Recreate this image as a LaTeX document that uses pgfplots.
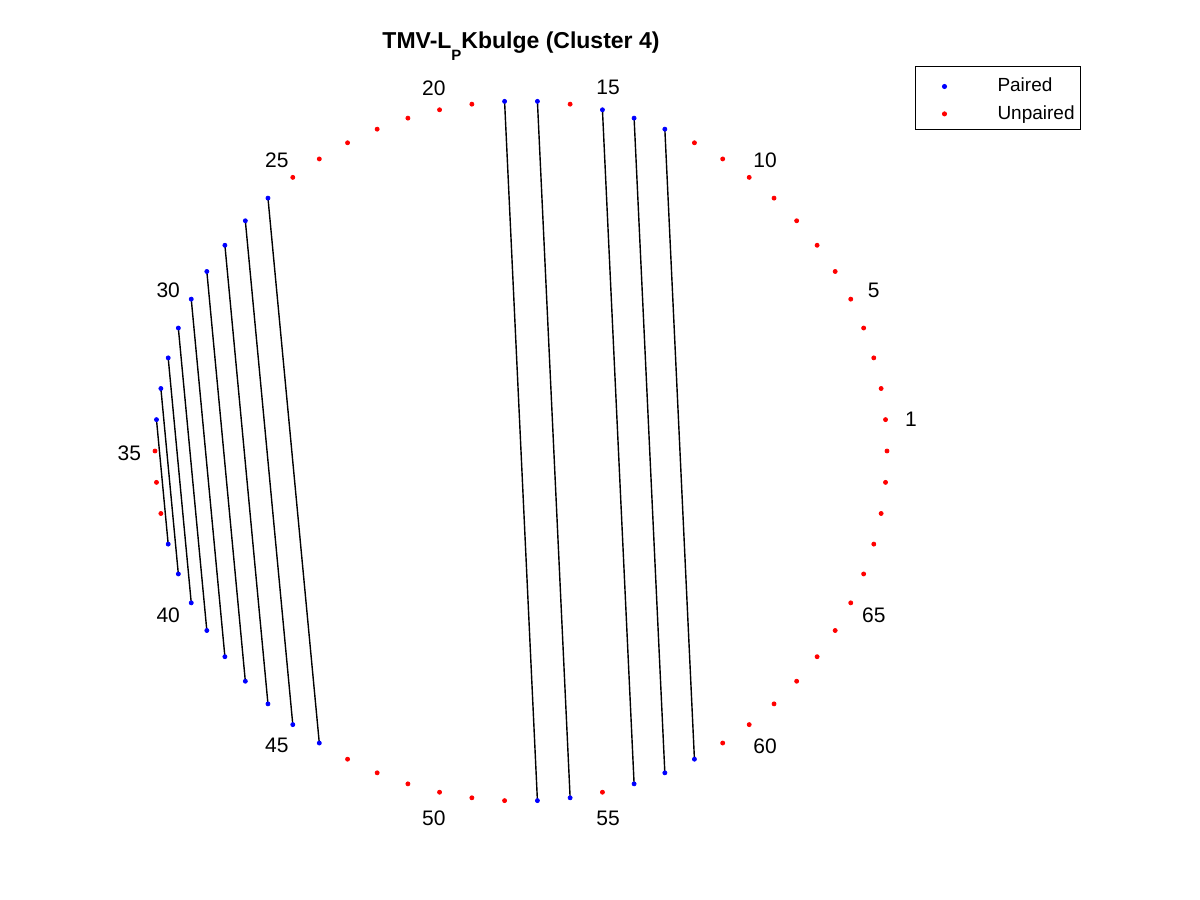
\documentclass[border=0pt]{standalone}
\usepackage{pgfplots}
\pgfplotsset{compat=1.18}
\usepackage{fontspec}
\setmainfont{Liberation Sans}
\begin{document}
\begin{tikzpicture}
\path[use as bounding box] (0,0) rectangle (600pt,450pt);
\begin{axis}[
  at={(0,0)}, anchor=south west,
  scale only axis, width=600pt, height=450pt,
  xmin=-1.4235, xmax=1.8552, ymin=-1.2829, ymax=1.2886,
  hide axis, clip=false,
  unbounded coords=jump,
  legend style={at={(axis cs:1.0765,1.1)}, anchor=north west, draw=black, line width=0.5pt,
    fill=white, font=\fontsize{9.5}{11.4}\selectfont, inner xsep=0pt, inner ysep=2.5pt,
    row sep=1pt, cells={anchor=west}, nodes={inner ysep=1pt, inner xsep=3pt}},
  legend image code/.code={\path[draw=none,fill=none] (0pt,-5pt) rectangle (38pt,7.5pt); \fill (14.5pt,0pt) circle (1pt);},
]
% pairing arcs (straight chords)
\addplot[black, line width=0.7pt, forget plot] coordinates {
(-0.04486,0.99899) (0.04486,-0.99899) (nan,nan)
(0.04486,0.99899) (0.13423,-0.99095) (nan,nan)
(0.22252,0.97493) (0.30902,-0.95106) (nan,nan)
(0.30902,0.95106) (0.39302,-0.91953) (nan,nan)
(0.39302,0.91953) (0.47387,-0.88060) (nan,nan)
(-0.69135,0.72252) (-0.55110,-0.83442) (nan,nan)
(-0.75319,0.65780) (-0.62349,-0.78183) (nan,nan)
(-0.80902,0.58779) (-0.69135,-0.72252) (nan,nan)
(-0.85839,0.51290) (-0.75319,-0.65780) (nan,nan)
(-0.90097,0.43388) (-0.80902,-0.58779) (nan,nan)
(-0.93625,0.35137) (-0.85839,-0.51290) (nan,nan)
(-0.96396,0.26604) (-0.90097,-0.43388) (nan,nan)
(-0.98393,0.17856) (-0.93625,-0.35137) (nan,nan)
(-0.99597,0.08964) (-0.96396,-0.26604)
};
% paired
\addplot[only marks, blue, mark=*, mark size=1pt, mark options={draw=blue, fill=blue}] coordinates {
(0.39302,0.91953) (0.30902,0.95106) (0.22252,0.97493) (0.04486,0.99899) (-0.04486,0.99899)
(-0.69135,0.72252) (-0.75319,0.65780) (-0.80902,0.58779) (-0.85839,0.51290) (-0.90097,0.43388)
(-0.93625,0.35137) (-0.96396,0.26604) (-0.98393,0.17856) (-0.99597,0.08964)
(-0.96396,-0.26604) (-0.93625,-0.35137) (-0.90097,-0.43388) (-0.85839,-0.51290) (-0.80902,-0.58779)
(-0.75319,-0.65780) (-0.69135,-0.72252) (-0.62349,-0.78183) (-0.55110,-0.83442)
(0.04486,-0.99899) (0.13423,-0.99095) (0.30902,-0.95106) (0.39302,-0.91953) (0.47387,-0.88060)
};
\addlegendentry{Paired}
% unpaired
\addplot[only marks, red, mark=*, mark size=1pt, mark options={draw=red, fill=red}] coordinates {
(0.99597,0.08964) (0.98393,0.17856) (0.96396,0.26604) (0.93625,0.35137) (0.90097,0.43388)
(0.85839,0.51290) (0.80902,0.58779) (0.75319,0.65780) (0.69135,0.72252) (0.62349,0.78183)
(0.55110,0.83442) (0.47387,0.88060) (0.13423,0.99095)
(-0.13423,0.99095) (-0.22252,0.97493) (-0.30902,0.95106) (-0.39302,0.91953) (-0.47387,0.88060)
(-0.55110,0.83442) (-0.62349,0.78183)
(-1,0) (-0.99597,-0.08964) (-0.98393,-0.17856)
(-0.47387,-0.88060) (-0.39302,-0.91953) (-0.30902,-0.95106) (-0.22252,-0.97493) (-0.13423,-0.99095)
(-0.04486,-0.99899) (0.22252,-0.97493)
(0.55110,-0.83442) (0.62349,-0.78183) (0.69135,-0.72252) (0.75319,-0.65780) (0.80902,-0.58779)
(0.85839,-0.51290) (0.90097,-0.43388) (0.93625,-0.35137) (0.96396,-0.26604) (0.98393,-0.17856)
(0.99597,-0.08964) (1,0)
};
\addlegendentry{Unpaired}
% position labels
\begin{scope}[every node/.style={font=\fontsize{10.5}{12.6}\selectfont, yshift=-1pt}]
\node at (axis cs:1.0657,0.0959) {1};
\node at (axis cs:0.9640,0.4643) {5};
\node at (axis cs:0.6671,0.8366) {10};
\node at (axis cs:0.2381,1.0432) {15};
\node at (axis cs:-0.2381,1.0432) {20};
\node at (axis cs:-0.6671,0.8366) {25};
\node at (axis cs:-0.9640,0.4643) {30};
\node at (axis cs:-1.07,0) {35};
\node at (axis cs:-0.9640,-0.4643) {40};
\node at (axis cs:-0.6671,-0.8366) {45};
\node at (axis cs:-0.2381,-1.0432) {50};
\node at (axis cs:0.2381,-1.0432) {55};
\node at (axis cs:0.6671,-0.8366) {60};
\node at (axis cs:0.9640,-0.4643) {65};
\end{scope}
\node[anchor=base, font=\bfseries\fontsize{11.5}{13.8}\selectfont] at (axis cs:0,1.151) {TMV-L\raisebox{-6pt}{\fontsize{7.5}{9}\selectfont P}Kbulge (Cluster 4)};
\end{axis}
\end{tikzpicture}
\end{document}
